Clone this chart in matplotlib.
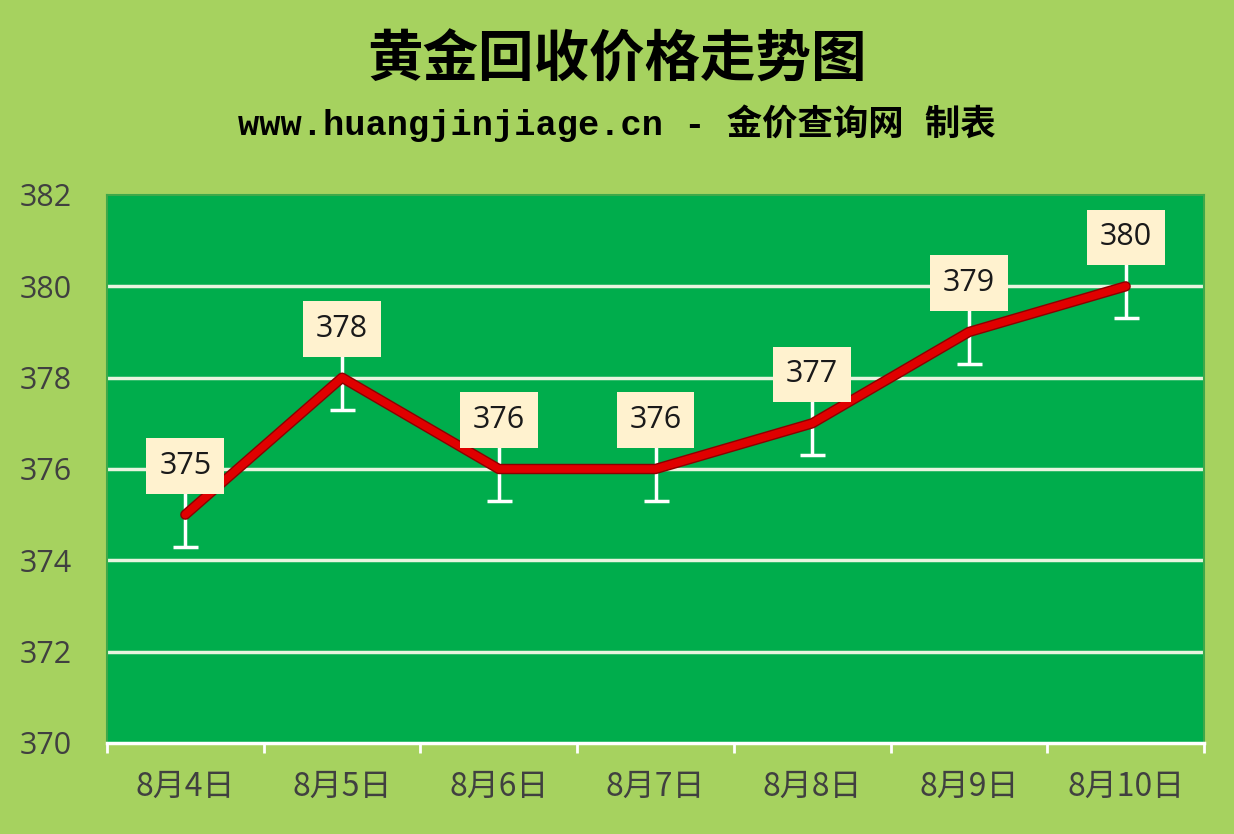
import numpy as np
import matplotlib.pyplot as plt
import matplotlib.patheffects as pe

dates = ['8月4日', '8月5日', '8月6日', '8月7日', '8月8日', '8月9日', '8月10日']
prices = [375, 378, 376, 376, 377, 379, 380]
err = [0.7, 0.7, 0.7, 0.7, 0.7, 0.7, 0.7]
yticks = [370, 372, 374, 376, 378, 380, 382]

plt.rcParams['font.family'] = ['Noto Sans CJK SC', 'DejaVu Sans']

fig = plt.figure(figsize=(12.34, 8.34), dpi=100)
fig.patch.set_facecolor('#A6D25F')
ax = fig.add_axes([107 / 1234, 1 - 743 / 834, (1204 - 107) / 1234, (743 - 195) / 834])
ax.set_facecolor('#00AD4C')

x = np.arange(len(dates))
ax.set_xlim(-0.5, len(dates) - 0.5)
ax.set_ylim(370, 382)

for y in yticks[1:-1]:
    ax.axhline(y, color='#E8F4DF', lw=2.5, zorder=1)

ax.errorbar(x, prices, yerr=err, fmt='none', ecolor='white', elinewidth=2.5,
            capsize=9, capthick=2.5, zorder=2)

ax.plot(x, prices, color='#E00000', lw=5.5, solid_capstyle='round', zorder=3,
        path_effects=[pe.Stroke(linewidth=7.5, foreground='#8B0000'), pe.Normal()])

for xi, p in zip(x, prices):
    ax.annotate(str(p), (xi, p + 1.07), ha='center', va='center', fontsize=22,
                family=['Open Sans', 'DejaVu Sans'], color='#1A1A1A', zorder=5,
                bbox=dict(boxstyle='square,pad=0.42', fc='#FFF2CF', ec='none'))

ax.set_xticks(x)
ax.set_xticklabels(dates)
ax.set_xticks(np.arange(-0.5, len(dates), 1), minor=True)
ax.set_yticks(yticks)
ax.tick_params(axis='x', which='major', length=0, pad=20, labelsize=23, labelcolor='#404040')
ax.tick_params(axis='x', which='minor', length=7, width=2, color='white')
ax.tick_params(axis='y', length=0, pad=25, labelsize=22, labelcolor='#404040')
for lab in ax.get_yticklabels():
    lab.set_fontfamily(['Open Sans', 'DejaVu Sans'])

for s in ['top', 'left', 'right']:
    ax.spines[s].set_color('#3FA84A')
    ax.spines[s].set_linewidth(1.5)
ax.spines['bottom'].set_color('white')
ax.spines['bottom'].set_linewidth(2.5)

fig.text(0.5, 1 - 60 / 834, '黄金回收价格走势图', ha='center', va='center',
         fontsize=40, fontweight='bold', color='black')
fig.text(0.5, 1 - 123 / 834, 'www.huangjinjiage.cn - 金价查询网 制表', ha='center', va='center',
         fontsize=25.5, fontweight='bold', color='black',
         family=['Liberation Mono', 'Noto Sans CJK SC'])

fig.savefig('out.png', dpi=100, facecolor=fig.get_facecolor())
